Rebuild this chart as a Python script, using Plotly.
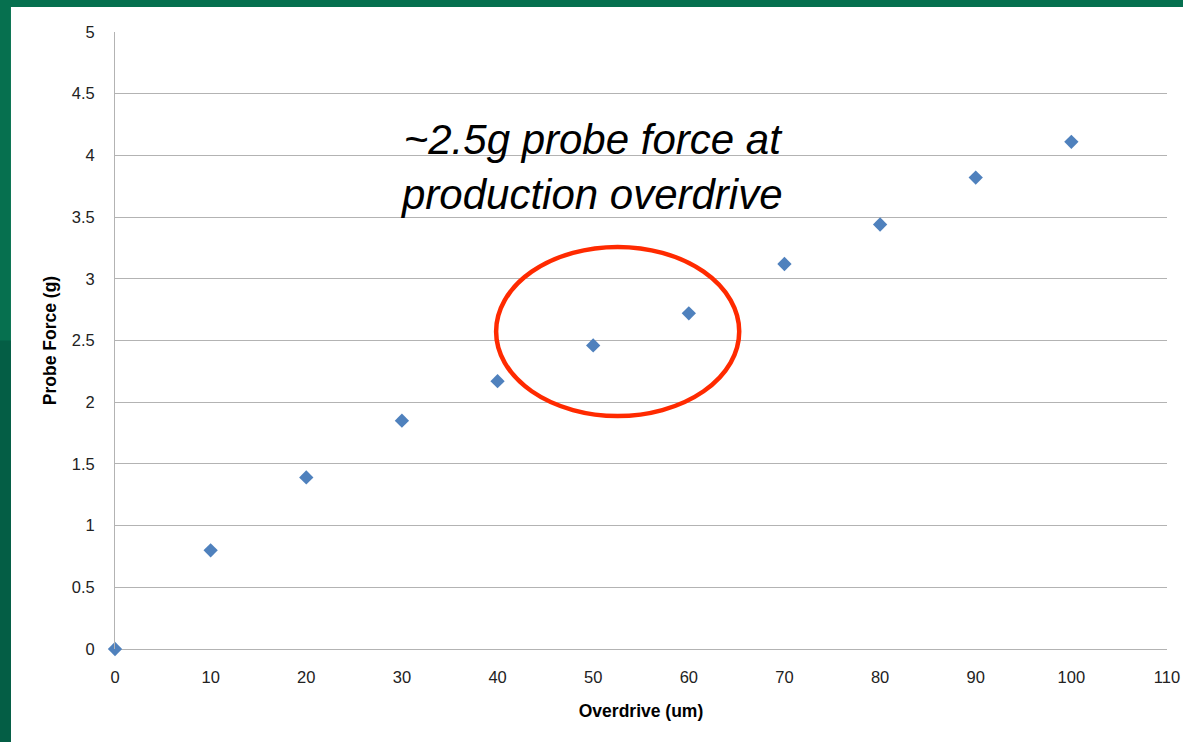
import plotly.graph_objects as go

overdrive = [0, 10, 20, 30, 40, 50, 60, 70, 80, 90, 100]
probe_force = [0.0, 0.80, 1.39, 1.85, 2.17, 2.46, 2.72, 3.12, 3.44, 3.82, 4.11]

x_ticks = [0, 10, 20, 30, 40, 50, 60, 70, 80, 90, 100, 110]
y_ticks = [0, 0.5, 1, 1.5, 2, 2.5, 3, 3.5, 4, 4.5, 5]
y_tick_text = ["0", "0.5", "1", "1.5", "2", "2.5", "3", "3.5", "4", "4.5", "5"]

fig = go.Figure()
fig.add_trace(go.Scatter(
    x=overdrive, y=probe_force, mode="markers",
    marker=dict(symbol="diamond", size=11, color="#4F81BD"),
    showlegend=False, cliponaxis=False,
))

tick_font = dict(family="Liberation Sans, Arial, sans-serif", size=16.5, color="#222222")
title_font = dict(family="Liberation Sans, Arial, sans-serif", size=17.5, color="#000000")

fig.update_layout(
    width=1183, height=742,
    margin=dict(l=115, r=16, t=32, b=93),
    paper_bgcolor="#06704f",
    plot_bgcolor="white",
    xaxis=dict(
        range=[0, 110], tickvals=x_ticks, ticktext=[str(v) for v in x_ticks],
        showgrid=False, zeroline=False, showline=False, automargin=False,
        tickfont=tick_font, ticks="", ticklabelstandoff=16,
        title=dict(text="<b>Overdrive (um)</b>", font=title_font, standoff=20),
    ),
    yaxis=dict(
        range=[0, 5], tickvals=y_ticks, ticktext=y_tick_text, automargin=False,
        showgrid=True, gridcolor="#B3B3B3", gridwidth=1,
        zeroline=True, zerolinecolor="#B3B3B3", zerolinewidth=1,
        showline=True, linecolor="#B3B3B3", linewidth=1,
        tickfont=tick_font, ticks="", ticklabelstandoff=16,
        title=dict(text="<b>Probe Force (g)</b>", font=title_font, standoff=10),
    ),
    shapes=[
        dict(type="rect", xref="paper", yref="paper", x0=-0.0989, x1=1.05, y0=-0.2, y1=1.0405,
             fillcolor="white", line=dict(width=0), layer="below"),
        dict(type="rect", xref="paper", yref="paper", x0=-0.2, x1=-0.0989, y0=-0.2, y1=0.5,
             fillcolor="#045240", line=dict(width=0), layer="below", opacity=0.6),
        dict(type="circle", xref="x", yref="y", x0=39.85, x1=65.27, y0=1.888, y1=3.258,
             line=dict(color="#FF2A00", width=4.5), fillcolor="rgba(0,0,0,0)", layer="above"),
    ],
    annotations=[
        dict(text="<i>~2.5g probe force at<br>production overdrive</i>", x=49.8, y=3.91, xref="x", yref="y",
             showarrow=False, font=dict(family="Liberation Sans, Arial, sans-serif", size=42, color="#000000"),
             align="center"),
    ],
)

fig.write_html("out.html")
